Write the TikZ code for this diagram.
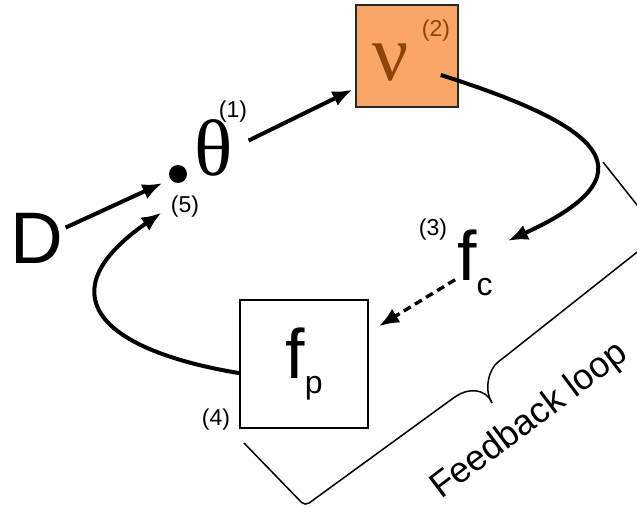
\documentclass[tikz,border=0pt]{standalone}
\usepackage{fontspec}
\setmainfont{Liberation Sans}
\newfontfamily\greekfont{Liberation Serif}
\usepackage{tikz}
\usetikzlibrary{arrows.meta}
\definecolor{nuorange}{RGB}{249,166,102}
\definecolor{nubrown}{RGB}{140,68,8}
\definecolor{boxedge}{RGB}{40,40,40}
\newcommand{\lowsub}[1]{\raisebox{-15pt}{\fontsize{32}{32}\selectfont #1}}

\begin{document}
\begin{tikzpicture}[
    x=1pt, y=-1pt,
    sym/.style={font=\fontsize{70}{70}\selectfont, inner sep=2pt},
    greek/.style={font=\greekfont\fontsize{80}{80}\selectfont, inner sep=0pt},
    idx/.style={font=\fontsize{23}{23}\selectfont, inner sep=1pt},
    plainbox/.style={rectangle, draw, line width=1.6pt, minimum size=128pt, inner sep=0pt, font=\fontsize{70}{70}\selectfont},
    orangebox/.style={rectangle, draw=boxedge, fill=nuorange, line width=1.6pt, minimum size=102pt, inner sep=0pt},
    dotnode/.style={circle, fill, minimum size=18pt, inner sep=0pt},
    arr/.style={-{Latex[length=20pt,width=16pt]}, line width=4pt},
    dasharr/.style={arr, line width=3.4pt, dash pattern=on 8pt off 5pt},
    loopline/.style={line width=1.5pt, rounded corners=5pt}
]
\useasboundingbox (0,0) rectangle (637,508);

\node[sym, font=\fontsize{73}{73}\selectfont] (D) at (37,238) {D};
\node[dotnode] (dot) at (178,174) {};
\node[greek] (theta) at (214,148) {θ};
\node[orangebox] (vbox) at (407,56) {};
\node[greek, text=nubrown] (nu) at (391,63) {ν};
\node[sym] (fc) at (475,263) {f\lowsub{c}};
\node[plainbox] (fp) at (304,364) {f\lowsub{p}};

% indices
\node[idx] (lab1) at (233,112) {(1)};
\node[idx, text=nubrown] (lab2) at (436,31) {(2)};
\node[idx] (lab3) at (433,230) {(3)};
\node[idx] (lab4) at (216,420) {(4)};
\node[idx] (lab5) at (185,207) {(5)};

% connectors
\coordinate (nutail) at ([xshift=-18pt,yshift=-19pt]vbox.east);
\draw[arr, shorten >=9pt] (D.20) -- (dot.216);
\draw[arr, shorten <=17pt, shorten >=3pt] (theta.east) -- (vbox.212);
\draw[arr] (nutail) .. controls (582,120) and (668,168) .. ([xshift=13pt,yshift=-13pt]fc.north east);
\draw[dasharr, shorten >=12pt] (fc.220) -- (fp.26);
\draw[arr, shorten >=10pt] (fp.188) .. controls (94,349) and (48,291) .. (lab5.west);

% feedback loop bracket
\draw[loopline] (244,443) -- (305,506) -- (452,399) .. controls (468,388) and (486,388) .. (492,403);
\draw[loopline] (492,403) .. controls (483,388) and (490,368) .. (502,359) -- (660,234) -- (603,162);
\node[font=\fontsize{36}{36}\selectfont, rotate=37] (fbl) at (530,421) {Feedback loop};
\end{tikzpicture}
\end{document}
